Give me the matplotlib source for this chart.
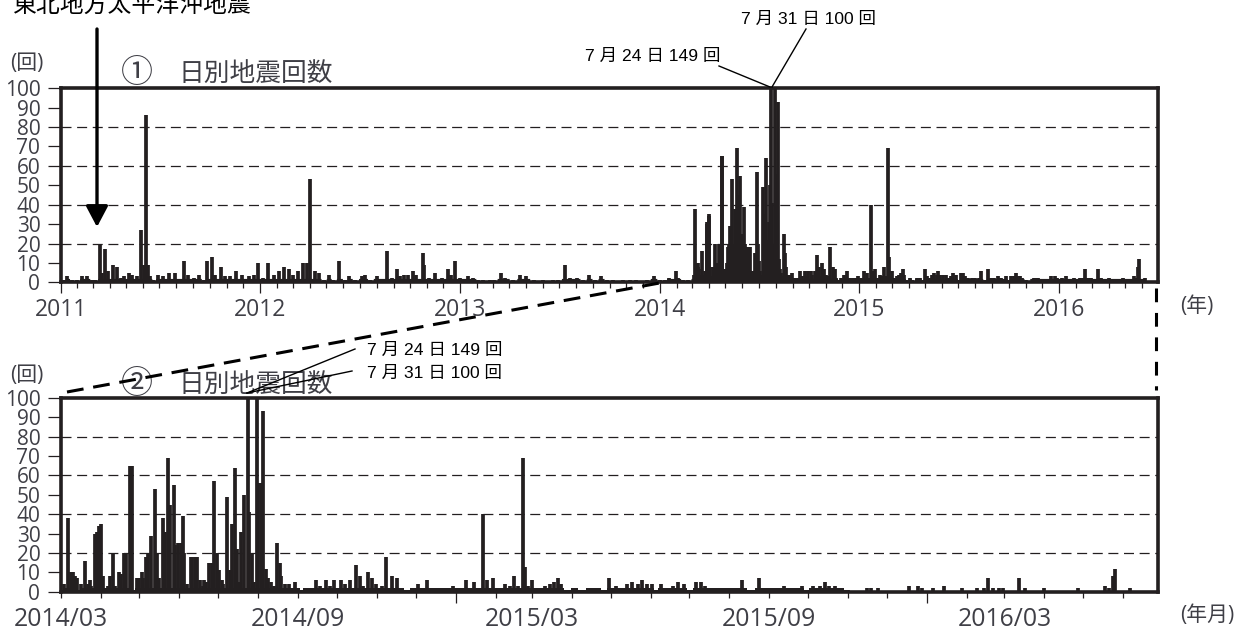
import numpy as np
import pandas as pd
import matplotlib
matplotlib.use("Agg")
import matplotlib.pyplot as plt
from matplotlib.lines import Line2D
from matplotlib.patches import FancyArrowPatch

W, H = 1247, 630
INK = "#231f20"
GREY = "#3f3f46"
LABEL_FONT = ["Open Sans", "Noto Sans CJK JP"]
JP_FONT = ["Noto Sans CJK JP", "DejaVu Sans"]
NOTE_FONT = ["Liberation Sans", "Noto Sans CJK JP"]

# days since 2011-01-01, up to the end of Feb 2014
pre_days = [6, 12, 21, 30, 40, 49, 58, 64, 72, 75, 82, 86, 96, 104, 110, 117, 125, 131, 140, 147,
            152, 156, 160, 164, 170, 178, 187, 198, 210, 226, 234, 244, 253, 262, 268, 277, 283,
            293, 301, 310, 321, 332, 344, 353, 361, 371, 380, 390, 399, 408, 417, 426, 435, 443,
            451, 457, 466, 472, 481, 491, 499, 510, 521, 528, 539, 551, 557, 566, 578, 597, 606,
            615, 621, 628, 636, 644, 651, 662, 665, 673, 685, 697, 708, 715, 722, 731, 746, 755,
            764, 773, 785, 792, 805, 813, 828, 841, 851, 865, 883, 901, 910, 922, 931, 944, 956,
            967, 977, 989, 999, 1011, 1029, 1041, 1053, 1072, 1085, 1096, 1105, 1112, 1125, 1130,
            1138, 1148]
pre_counts = [1, 3, 1, 1, 3, 3, 1, 1, 20, 5, 17, 6, 9, 8, 2, 3, 5, 4, 3, 27,
              9, 86, 9, 3, 1, 4, 3, 5, 5, 11, 4, 2, 4, 1, 11, 13, 4,
              8, 3, 3, 6, 4, 3, 4, 10, 2, 10, 4, 6, 8, 7, 4, 6, 10,
              10, 53, 6, 5, 1, 4, 1, 11, 1, 3, 1, 3, 4, 1, 3, 16, 2,
              7, 3, 4, 4, 6, 4, 15, 9, 2, 5, 2, 7, 4, 11, 2, 3, 2,
              1, 1, 1, 1, 5, 2, 1, 4, 3, 1, 1, 1, 1, 9, 2, 2, 1,
              4, 1, 3, 1, 1, 1, 1, 1, 1, 3, 1, 1, 2, 6, 2,
              1, 1]

# days since 2014-03-01
post_days = [3, 6, 8, 10, 11, 13, 14, 16, 19, 21, 23, 24, 27, 28, 30, 31, 33, 35, 37, 38, 41, 42,
             45, 47, 49, 51, 54, 55, 57, 59, 61, 63, 64, 66, 68, 70, 73, 75, 76, 79, 81, 83, 85,
             88, 89, 91, 93, 95, 96, 98, 101, 102, 104, 106, 108, 110, 111, 113, 115, 117, 119,
             121, 123, 125, 126, 129, 131, 133, 135, 137, 138, 140, 142, 145, 146, 148, 150, 152,
             153, 155, 157, 159, 161, 163, 165, 168, 170, 171, 174, 177, 178, 182, 184, 187, 189,
             193, 198, 201, 206, 209, 212, 217, 220, 224, 229, 232, 234, 238, 241, 244, 249, 252,
             257, 261, 264, 268, 273, 277, 281, 284, 289, 294, 299, 304, 309, 314, 320, 323, 327,
             330, 335, 339, 344, 348, 351, 354, 358, 360, 362, 365, 369, 375, 379, 382, 385, 388,
             392, 398, 403, 411, 416, 421, 425, 430, 434, 439, 443, 447, 450, 454, 458, 461, 465,
             469, 474, 478, 483, 487, 492, 496, 499, 505, 512, 518, 525, 528, 535, 541, 546, 553,
             560, 564, 574, 577, 583, 588, 592, 595, 600, 604, 610, 625, 628, 633, 657, 664, 667,
             676, 684, 698, 710, 715, 718, 722, 727, 730, 742, 747, 762, 788, 809, 812, 815, 817,
             828]
post_counts = [4, 38, 10, 10, 8, 7, 1, 4, 16, 4, 6, 3, 30, 31, 34, 35, 8, 2, 3, 8, 20, 3,
               10, 9, 20, 20, 65, 65, 1, 7, 7, 10, 7, 18, 20, 29, 53, 20, 7, 38, 31, 69, 45,
               55, 24, 25, 25, 39, 20, 4, 18, 18, 18, 18, 6, 3, 6, 5, 15, 15, 57,
               20, 11, 6, 4, 49, 11, 35, 64, 22, 5, 31, 50, 149, 41, 20, 5, 100,
               56, 56, 93, 12, 7, 5, 3, 25, 15, 8, 4, 4, 2, 5, 2, 1, 2,
               2, 6, 3, 6, 3, 6, 6, 4, 6, 14, 8, 3, 10, 7, 4, 3, 18,
               8, 7, 2, 1, 2, 4, 2, 6, 2, 2, 2, 3, 2, 6, 5, 2, 40,
               6, 7, 2, 4, 3, 8, 3, 69, 13, 3, 6, 2, 3, 4, 5, 7, 4,
               1, 2, 1, 2, 2, 1, 7, 3, 2, 4, 5, 4, 6, 4, 4, 1, 4,
               2, 3, 5, 4, 1, 5, 5, 3, 2, 2, 2, 2, 6, 1, 7, 2, 2,
               3, 2, 3, 1, 3, 3, 5, 3, 3, 2, 1, 2, 2, 2, 3, 3, 2,
               2, 3, 2, 2, 2, 7, 2, 2, 2, 7, 2, 2, 2, 3, 2, 8, 12,
               2]

y_ticks = list(range(0, 101, 10))
grid_levels = [20, 40, 60, 80]
top_labels = {"2011-01": "2011", "2012-01": "2012", "2013-01": "2013", "2014-01": "2014",
              "2015-01": "2015", "2016-01": "2016"}
bottom_labels = {"2014-03": "2014/03", "2014-09": "2014/09", "2015-03": "2015/03",
                 "2015-09": "2015/09", "2016-03": "2016/03"}


def px(x, y):
    return x / W, 1 - y / H


def make_axes(top, bottom):
    return fig.add_axes([60.5 / W, 1 - bottom / H, (1158 - 60.5) / W, (bottom - top) / H])


def draw_panel(ax, days, counts, start, end, labels, xsize, floor_until):
    start, end = pd.Timestamp(start), pd.Timestamp(end)
    ax.vlines(days, 0, counts, color=INK, lw=2.7, zorder=2)
    # low level of the record runs on between the separate bars
    d, c = np.array(days), np.array(counts)
    keep = d <= floor_until
    ax.fill_between(d[keep], 0, np.minimum(c[keep], 2), step="mid", color=INK, lw=0, zorder=2)
    ax.hlines(grid_levels, 0, (end - start).days, color=INK, lw=0.9,
              linestyles=[(0, (8, 4.5))], zorder=1)
    ax.set_xlim(0, (end - start).days)
    ax.set_ylim(0, 100)
    ax.set_yticks(y_ticks)
    ax.tick_params(axis="y", length=9.5, width=0.9, pad=5, color=INK, labelsize=15, labelcolor=GREY)
    for t in ax.get_yticklabels():
        t.set_family(LABEL_FONT)

    months = pd.date_range(start, end, freq="MS")
    ax.set_xticks([(m - start).days for m in months],
                  [labels.get(m.strftime("%Y-%m"), "") for m in months])
    ax.tick_params(axis="x", length=4.5, width=0.9, pad=6.5, color=INK, labelsize=xsize, labelcolor=GREY)
    for t in ax.get_xticklabels():
        t.set_family(LABEL_FONT)
    for m, tick in zip(months, ax.xaxis.get_major_ticks()):
        if m.month == 1:
            tick.tick1line.set_markersize(8)
    for s in ax.spines.values():
        s.set_linewidth(2.6)
        s.set_color(INK)
        s.set_zorder(5)


def note(x, y, s, font=NOTE_FONT, size=12.6, color="black", ha="left"):
    fx, fy = px(x, y)
    fig.text(fx, fy, s, family=font, fontsize=size, color=color, ha=ha, va="center")


def line(xs, ys, lw=1.0, ls="-"):
    a, b = px(xs[0], ys[0]), px(xs[1], ys[1])
    fig.add_artist(Line2D([a[0], b[0]], [a[1], b[1]], color="black", lw=lw, ls=ls,
                          transform=fig.transFigure, zorder=6))


fig = plt.figure(figsize=(W / 100, H / 100), dpi=100, facecolor="white")

all_days = pre_days + [d + 1155 for d in post_days]
all_counts = pre_counts + post_counts
ax1 = make_axes(88.3, 282.3)
draw_panel(ax1, all_days, all_counts, "2011-01-01", "2016-06-30", top_labels, 16.5, 2010)
ax2 = make_axes(397.8, 591.8)
draw_panel(ax2, post_days, post_counts, "2014-03-01", "2016-06-28", bottom_labels, 17.8, 610)

# titles and units
for y, mark in [(73, "①"), (384, "②")]:
    note(137, y, mark, font=JP_FONT, size=23, color=GREY, ha="center")
    note(178, y + 1, "日別地震回数", font=JP_FONT, size=18.5, color=GREY)
    note(10, y - 9, "(回)", font=LABEL_FONT, size=15, color=GREY)
note(1180, 306, "(年)", font=LABEL_FONT, size=15, color=GREY)
note(1180, 616, "(年月)", font=LABEL_FONT, size=15, color=GREY)

# callouts
note(13, 5, "東北地方太平洋沖地震", font=JP_FONT, size=17.2)
fig.add_artist(FancyArrowPatch(px(97, 29), px(97, 227), transform=fig.transFigure, color="black",
                               arrowstyle="-|>,head_length=0.85,head_width=0.45", mutation_scale=15,
                               lw=2.4, shrinkA=0, shrinkB=0, zorder=6))
note(741, 19, "7 月 31 日 100 回")
note(585, 56, "7 月 24 日 149 回")
line((719, 770), (66, 87))
line((806, 772), (29, 87))
note(367, 350, "7 月 24 日 149 回")
note(367, 373, "7 月 31 日 100 回")
line((355, 247), (349, 393))
line((352, 247), (371, 393))

# zoom guides between the two panels
line((67, 665), (392, 282), lw=2.2, ls=(0, (5.5, 3.2)))
line((1156, 1156), (288, 390), lw=2.2, ls=(0, (4.5, 3.5)))

fig.savefig("out.png", dpi=100)
